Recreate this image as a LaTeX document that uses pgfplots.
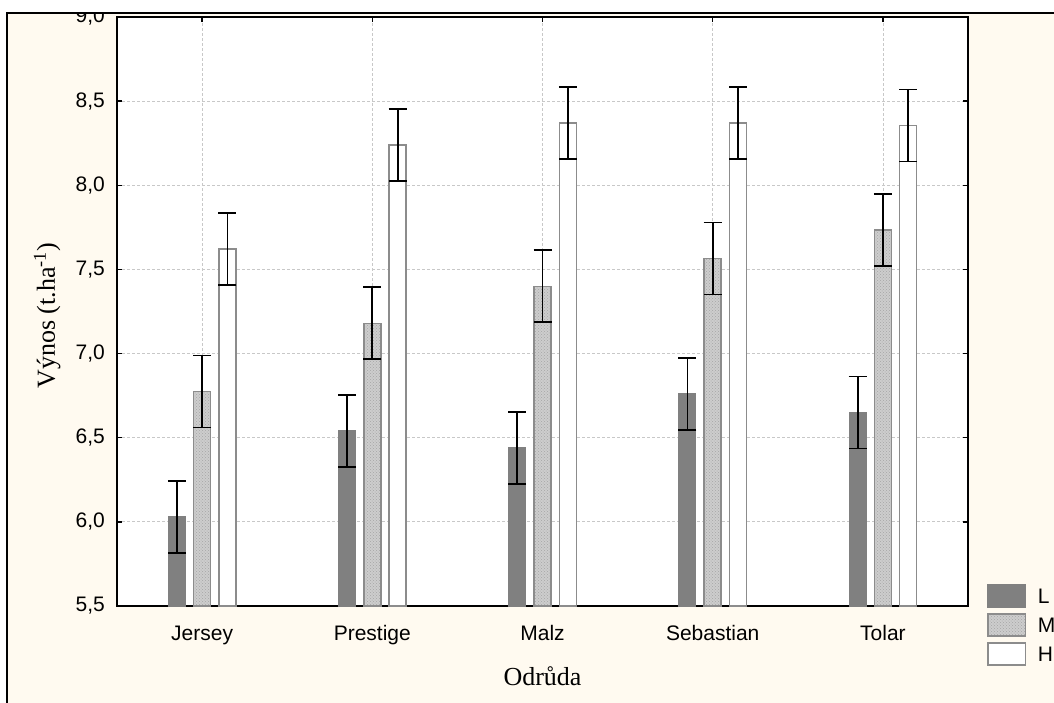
\documentclass[border=0pt]{standalone}
\usepackage{fontspec}
\setmainfont{Liberation Sans}
\newfontfamily\seriffont{Liberation Serif}
\usepackage{pgfplots}
\pgfplotsset{compat=1.18}
\usetikzlibrary{patterns}
\definecolor{cream}{RGB}{255,250,240}
\definecolor{darkbar}{RGB}{128,128,128}
\definecolor{midbar}{RGB}{205,205,205}
\definecolor{hatch}{RGB}{165,165,165}
\definecolor{edgegray}{RGB}{140,140,140}
\definecolor{gridgray}{RGB}{200,200,200}
\pgfplotsset{
  errb/.style={error bars/.cd, y dir=both, y explicit,
    error bar style={line width=1.8pt, black},
    error mark options={black, rotate=90, mark size=9pt, line width=1.8pt}},
  legimg/.style={legend image code/.code={\draw[##1, line width=1.5pt] (0pt,-9.8pt) rectangle (37.5pt,12.2pt); \path (49pt,0pt);}},
}
\begin{document}
\begin{tikzpicture}[x=1pt,y=1pt]
\useasboundingbox (0,0) rectangle (1054,702);
\fill[white] (0,0) rectangle (1054,702);
\fill[cream] (7,-10) rectangle (1070,689);
\begin{scope}
\clip (7,-10) rectangle (1070,689);
\begin{axis}[
  at={(117pt,96pt)}, anchor=south west,
  scale only axis, width=851pt, height=589pt,
  ymin=5.5, ymax=9,
  ytick={5.5,6.0,6.5,7.0,7.5,8.0,8.5,9.0},
  xmin=-0.5, xmax=4.5,
  xtick={0,1,2,3,4},
  xticklabels={Jersey,Prestige,Malz,Sebastian,Tolar},
  ybar=8.3pt, bar width=17pt,
  axis background/.style={fill=white},
  grid=major,
  major grid style={gridgray, dash pattern=on 3pt off 2pt, line width=0.8pt},
  axis line style={line width=2pt, black},
  tick style={black, line width=1.5pt},
  tick align=inside, major tick length=5pt,
  /pgf/number format/assume math mode=true,
  /pgf/number format/fixed,
  /pgf/number format/fixed zerofill,
  /pgf/number format/precision=1,
  /pgf/number format/use comma,
  tick label style={font=\fontsize{21}{25}\selectfont},
  yticklabel style={anchor=east, inner sep=0pt, xshift=-12pt},
  xticklabel style={anchor=base, inner sep=0pt, yshift=-34pt},
  xlabel={Odrůda},
  ylabel={Výnos (t.ha\textsuperscript{-1})},
  label style={font=\seriffont\fontsize{26}{30}\selectfont},
  xlabel style={at={(axis description cs:0.5,-0.1358)}, anchor=base},
  ylabel style={at={(axis description cs:-0.0729,0.493)}, anchor=base},
  legend style={at={(axis description cs:1.0226,0.037)}, anchor=north west,
    draw=none, fill=none, inner sep=0pt,
    font=\fontsize{21}{25}\selectfont, row sep=5.5pt,
    nodes={inner sep=0pt}},
  legend cell align=left,
]
\addplot[fill=darkbar, draw=darkbar, line width=1pt, legimg, errb] coordinates {
  (0,6.03) +- (0,0.214)
  (1,6.54) +- (0,0.214)
  (2,6.44) +- (0,0.214)
  (3,6.76) +- (0,0.214)
  (4,6.65) +- (0,0.214)
};
\addlegendentry{L}
\addplot[fill=midbar, draw=edgegray, line width=1.5pt, postaction={pattern=crosshatch dots, pattern color=hatch}, legimg, errb] coordinates {
  (0,6.775) +- (0,0.214)
  (1,7.18) +- (0,0.214)
  (2,7.40) +- (0,0.214)
  (3,7.565) +- (0,0.214)
  (4,7.735) +- (0,0.214)
};
\addlegendentry{M}
\addplot[fill=white, draw=edgegray, line width=1.5pt, legimg, errb] coordinates {
  (0,7.62) +- (0,0.214)
  (1,8.24) +- (0,0.214)
  (2,8.37) +- (0,0.214)
  (3,8.37) +- (0,0.214)
  (4,8.355) +- (0,0.214)
};
\addlegendentry{H}
\end{axis}
\end{scope}
\draw[black, line width=2pt] (7,-10) -- (7,689) -- (1070,689);
\end{tikzpicture}
\end{document}
